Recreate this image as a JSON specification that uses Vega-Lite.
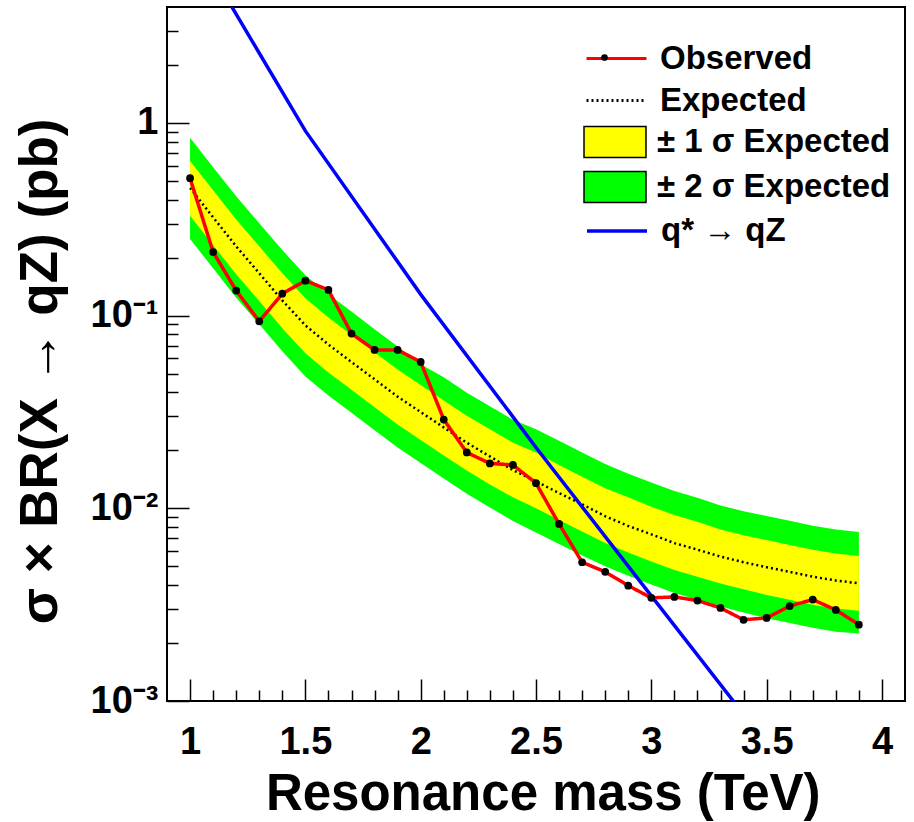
{
  "$schema": "https://vega.github.io/schema/vega-lite/v6.json",
  "width": 738,
  "height": 694,
  "autosize": {"type": "none"},
  "padding": {"left": 167, "top": 7, "right": 9, "bottom": 121},
  "background": "white",
  "config": {"view": {"stroke": "black", "strokeWidth": 2}, "font": "Liberation Sans"},
  "datasets": {
    "limits": [
      {"mass": 1.0, "Observed": 0.517, "Expected": 0.460, "lo2": 0.250, "lo1": 0.330, "hi1": 0.635, "hi2": 0.838},
      {"mass": 1.1, "Observed": 0.214, "Expected": 0.324, "lo2": 0.176, "lo1": 0.232, "hi1": 0.447, "hi2": 0.589},
      {"mass": 1.2, "Observed": 0.135, "Expected": 0.229, "lo2": 0.124, "lo1": 0.164, "hi1": 0.316, "hi2": 0.417},
      {"mass": 1.3, "Observed": 0.0935, "Expected": 0.166, "lo2": 0.0902, "lo1": 0.119, "hi1": 0.229, "hi2": 0.302},
      {"mass": 1.4, "Observed": 0.130, "Expected": 0.120, "lo2": 0.0653, "lo1": 0.0861, "hi1": 0.166, "hi2": 0.219},
      {"mass": 1.5, "Observed": 0.152, "Expected": 0.0891, "lo2": 0.0484, "lo1": 0.0638, "hi1": 0.123, "hi2": 0.162},
      {"mass": 1.6, "Observed": 0.136, "Expected": 0.0708, "lo2": 0.0385, "lo1": 0.0507, "hi1": 0.0977, "hi2": 0.129},
      {"mass": 1.7, "Observed": 0.0807, "Expected": 0.0575, "lo2": 0.0313, "lo1": 0.0412, "hi1": 0.0794, "hi2": 0.105},
      {"mass": 1.8, "Observed": 0.0664, "Expected": 0.0468, "lo2": 0.0254, "lo1": 0.0335, "hi1": 0.0646, "hi2": 0.0851},
      {"mass": 1.9, "Observed": 0.0664, "Expected": 0.0380, "lo2": 0.0207, "lo1": 0.0272, "hi1": 0.0525, "hi2": 0.0692},
      {"mass": 2.0, "Observed": 0.0575, "Expected": 0.0316, "lo2": 0.0172, "lo1": 0.0226, "hi1": 0.0437, "hi2": 0.0560},
      {"mass": 2.1, "Observed": 0.0289, "Expected": 0.0263, "lo2": 0.0143, "lo1": 0.0188, "hi1": 0.0363, "hi2": 0.0479},
      {"mass": 2.2, "Observed": 0.0195, "Expected": 0.0219, "lo2": 0.0119, "lo1": 0.0157, "hi1": 0.0302, "hi2": 0.0398},
      {"mass": 2.3, "Observed": 0.0171, "Expected": 0.0186, "lo2": 0.0101, "lo1": 0.0133, "hi1": 0.0257, "hi2": 0.0339},
      {"mass": 2.4, "Observed": 0.0168, "Expected": 0.0158, "lo2": 0.0086, "lo1": 0.0114, "hi1": 0.0219, "hi2": 0.0288},
      {"mass": 2.5, "Observed": 0.0135, "Expected": 0.0138, "lo2": 0.0075, "lo1": 0.0100, "hi1": 0.0195, "hi2": 0.0257},
      {"mass": 2.6, "Observed": 0.0083, "Expected": 0.0120, "lo2": 0.00653, "lo1": 0.0087, "hi1": 0.0168, "hi2": 0.0224},
      {"mass": 2.7, "Observed": 0.00525, "Expected": 0.0105, "lo2": 0.00569, "lo1": 0.00759, "hi1": 0.0146, "hi2": 0.0195},
      {"mass": 2.8, "Observed": 0.00468, "Expected": 0.0091, "lo2": 0.0050, "lo1": 0.0066, "hi1": 0.0127, "hi2": 0.0170},
      {"mass": 2.9, "Observed": 0.00397, "Expected": 0.0081, "lo2": 0.00447, "lo1": 0.0059, "hi1": 0.0114, "hi2": 0.0151},
      {"mass": 3.0, "Observed": 0.00343, "Expected": 0.00733, "lo2": 0.00403, "lo1": 0.0053, "hi1": 0.0102, "hi2": 0.0136},
      {"mass": 3.1, "Observed": 0.00347, "Expected": 0.0066, "lo2": 0.00363, "lo1": 0.00479, "hi1": 0.00923, "hi2": 0.0123},
      {"mass": 3.2, "Observed": 0.00332, "Expected": 0.0061, "lo2": 0.00335, "lo1": 0.00442, "hi1": 0.00851, "hi2": 0.01135},
      {"mass": 3.3, "Observed": 0.00304, "Expected": 0.00562, "lo2": 0.00309, "lo1": 0.00407, "hi1": 0.00776, "hi2": 0.01035},
      {"mass": 3.4, "Observed": 0.00264, "Expected": 0.00525, "lo2": 0.00288, "lo1": 0.0038, "hi1": 0.00724, "hi2": 0.00966},
      {"mass": 3.5, "Observed": 0.00270, "Expected": 0.00495, "lo2": 0.00269, "lo1": 0.00355, "hi1": 0.00684, "hi2": 0.00912},
      {"mass": 3.6, "Observed": 0.00311, "Expected": 0.00468, "lo2": 0.00254, "lo1": 0.00335, "hi1": 0.00646, "hi2": 0.00861},
      {"mass": 3.7, "Observed": 0.00336, "Expected": 0.00442, "lo2": 0.0024, "lo1": 0.00316, "hi1": 0.0061, "hi2": 0.00813},
      {"mass": 3.8, "Observed": 0.00297, "Expected": 0.00422, "lo2": 0.00229, "lo1": 0.00302, "hi1": 0.00582, "hi2": 0.00776},
      {"mass": 3.9, "Observed": 0.00249, "Expected": 0.00408, "lo2": 0.00224, "lo1": 0.00294, "hi1": 0.00566, "hi2": 0.00754}
    ],
    "theory": [
      {"mass": 1.0, "xs": 9.3},
      {"mass": 1.5, "xs": 0.91},
      {"mass": 2.0, "xs": 0.129},
      {"mass": 2.5, "xs": 0.0207},
      {"mass": 3.0, "xs": 0.00351},
      {"mass": 3.5, "xs": 0.0006}
    ]
  },
  "data": {"name": "limits"},
  "layer": [
    {
      "mark": {"type": "area", "opacity": 1, "clip": true},
      "encoding": {
        "x": {"field": "mass", "type": "quantitative", "scale": {"domain": [0.9, 4.1], "nice": false, "zero": false},
          "axis": {"orient": "bottom", "values": [1, 1.5, 2, 2.5, 3, 3.5, 4], "labelExpr": "toString(datum.value)", "tickSize": -22, "tickWidth": 1.5, "tickColor": "black", "domain": false, "grid": false,
            "labelFont": "Liberation Sans", "labelFontWeight": "bold", "labelFontSize": 38, "labelColor": "black", "labelPadding": 44, "labelBaseline": "top", "labelFlush": false, "labelOverlap": false, "labelBound": false,
            "title": "Resonance mass (TeV)", "titleFont": "Liberation Sans", "titleFontWeight": "bold", "titleFontSize": 51, "titleColor": "black", "titleX": 653, "titleY": 108, "titleAlign": "right", "titleBaseline": "alphabetic", "titleAngle": 0}},
        "y": {"field": "lo2", "type": "quantitative", "scale": {"type": "log", "domain": [0.001, 4], "nice": false},
          "axis": {"orient": "left", "values": [0.001, 0.01, 0.1, 1], "labelExpr": "datum.value > 0.5 ? '1' : datum.value > 0.05 ? '10⁻¹' : datum.value > 0.005 ? '10⁻²' : '10⁻³'", "tickSize": -22, "tickWidth": 1.5, "tickColor": "black", "domain": false, "grid": false,
            "labelFont": "Liberation Sans", "labelFontWeight": "bold", "labelFontSize": 38, "labelColor": "black", "labelPadding": 31, "labelAlign": "right", "labelBaseline": "middle", "labelFlush": false, "labelOverlap": false, "labelBound": false,
            "title": "σ × BR(X → qZ) (pb)", "titleFont": "Liberation Sans", "titleFontWeight": "bold", "titleFontSize": 53, "titleColor": "black", "titleX": -111, "titleY": 111, "titleAlign": "right", "titleBaseline": "alphabetic", "titleAngle": 270}},
        "y2": {"field": "hi2"},
        "fill": {"datum": "± 2 σ Expected", "scale": {"domain": ["± 1 σ Expected", "± 2 σ Expected"], "range": ["#ffff00", "#00ff00"]},
          "legend": {"orient": "none", "legendX": 422.5, "legendY": 109.5, "title": null, "padding": 0, "symbolType": "M-1.265,-0.633H1.265V0.633H-1.265Z", "symbolSize": 2401, "symbolStrokeColor": "black", "symbolStrokeWidth": 1.5, "symbolOpacity": 1,
            "labelFont": "Liberation Sans", "labelFontWeight": "bold", "labelFontSize": 33, "labelColor": "black", "labelOffset": 16.5, "labelLimit": 400, "rowPadding": 0}}
      }
    },
    {
      "mark": {"type": "area", "opacity": 1, "clip": true},
      "encoding": {
        "x": {"field": "mass", "type": "quantitative", "scale": {"domain": [0.9, 4.1], "nice": false, "zero": false},
          "axis": {"orient": "bottom", "values": [1.1, 1.2, 1.3, 1.4, 1.6, 1.7, 1.8, 1.9, 2.1, 2.2, 2.3, 2.4, 2.6, 2.7, 2.8, 2.9, 3.1, 3.2, 3.3, 3.4, 3.6, 3.7, 3.8, 3.9], "tickSize": -11, "tickWidth": 1.5, "tickColor": "black", "labels": false, "domain": false, "grid": false, "title": null}},
        "y": {"field": "lo1", "type": "quantitative", "scale": {"type": "log", "domain": [0.001, 4], "nice": false},
          "axis": {"orient": "left", "values": [0.002, 0.003, 0.004, 0.005, 0.006, 0.007, 0.008, 0.009, 0.02, 0.03, 0.04, 0.05, 0.06, 0.07, 0.08, 0.09, 0.2, 0.3, 0.4, 0.5, 0.6, 0.7, 0.8, 0.9, 2, 3], "tickSize": -11, "tickWidth": 1.5, "tickColor": "black", "labels": false, "domain": false, "grid": false, "title": null}},
        "y2": {"field": "hi1"},
        "fill": {"datum": "± 1 σ Expected"}
      }
    },
    {
      "mark": {"type": "line", "strokeWidth": 2.5, "strokeCap": "butt", "clip": true},
      "encoding": {
        "x": {"field": "mass", "type": "quantitative", "axis": null},
        "y": {"field": "Expected", "type": "quantitative", "axis": null},
        "stroke": {"datum": "Expected", "scale": {"domain": ["Observed", "Expected"], "range": ["#ff0000", "#000000"]},
          "legend": {"orient": "none", "legendX": 425, "legendY": 27, "title": null, "padding": 0, "symbolType": "M-1.3043,0H1.3043", "symbolSize": 2116, "symbolStrokeWidth": 3,
            "labelFont": "Liberation Sans", "labelFontWeight": "bold", "labelFontSize": 33, "labelColor": "black", "labelOffset": 19, "labelLimit": 400, "rowPadding": 0}},
        "strokeDash": {"datum": "Expected", "scale": {"domain": ["Observed", "Expected"], "range": [[1, 0], [2, 3]]},
          "legend": {"orient": "none", "legendX": 425, "legendY": 27, "title": null, "padding": 0, "symbolType": "M-1.3043,0H1.3043", "symbolSize": 2116, "symbolStrokeWidth": 3,
            "labelFont": "Liberation Sans", "labelFontWeight": "bold", "labelFontSize": 33, "labelColor": "black", "labelOffset": 19, "labelLimit": 400, "rowPadding": 0}}
      }
    },
    {
      "data": {"name": "theory"},
      "mark": {"type": "line", "strokeWidth": 3.5, "clip": true},
      "encoding": {
        "x": {"field": "mass", "type": "quantitative", "axis": null},
        "y": {"field": "xs", "type": "quantitative", "axis": null},
        "color": {"datum": "q* → qZ", "scale": {"domain": ["q* → qZ"], "range": ["#0000ff"]},
          "legend": {"orient": "none", "legendX": 425, "legendY": 199, "title": null, "padding": 0, "symbolType": "M-1.3043,0H1.3043", "symbolSize": 2116, "symbolStrokeWidth": 3.5,
            "labelFont": "Liberation Sans", "labelFontWeight": "bold", "labelFontSize": 33, "labelColor": "black", "labelOffset": 19, "labelLimit": 400}}
      }
    },
    {
      "mark": {"type": "line", "strokeWidth": 3.5, "clip": true},
      "encoding": {
        "x": {"field": "mass", "type": "quantitative", "axis": null},
        "y": {"field": "Observed", "type": "quantitative", "axis": null},
        "stroke": {"datum": "Observed"},
        "strokeDash": {"datum": "Observed"}
      }
    },
    {
      "mark": {"type": "point", "filled": true, "opacity": 1, "color": "black", "size": 60, "clip": true},
      "encoding": {
        "x": {"field": "mass", "type": "quantitative", "axis": null},
        "y": {"field": "Observed", "type": "quantitative", "axis": null},
        "shape": {"datum": "Observed", "scale": {"domain": ["Observed"], "range": ["circle"]},
          "legend": {"orient": "none", "legendX": 433, "legendY": 46, "title": null, "padding": 0, "symbolSize": 45, "symbolFillColor": "black", "symbolStrokeColor": "black", "symbolOpacity": 1,
            "labelExpr": "''", "labelFontSize": 1, "labelOffset": 0}}
      }
    }
  ],
  "resolve": {"axis": {"x": "independent", "y": "independent"}}
}
